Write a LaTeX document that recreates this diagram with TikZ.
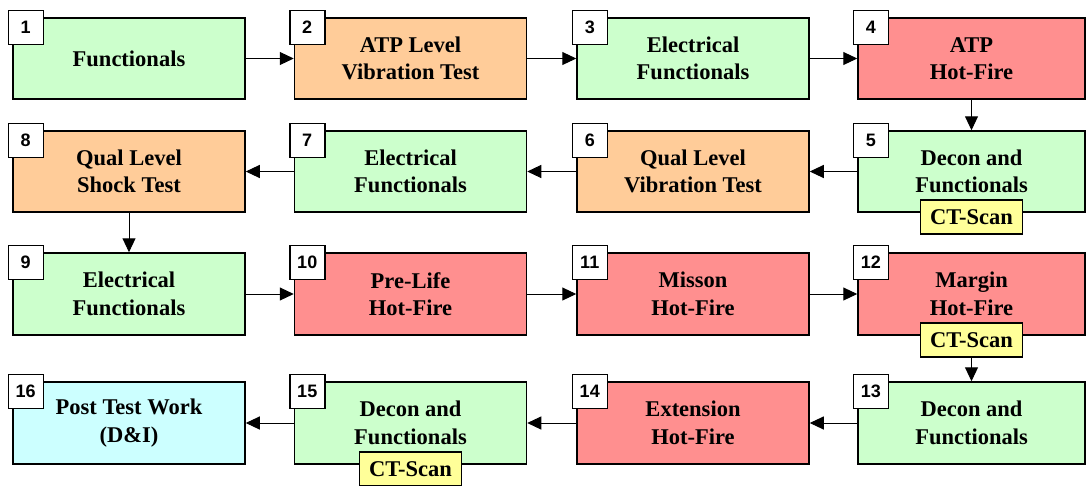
\documentclass[tikz,border=0pt]{standalone}
\usepackage{fontspec}
\setmainfont{Liberation Serif}
\newfontfamily\numfont{Liberation Sans}
\usetikzlibrary{arrows.meta,calc}
\definecolor{cgreen}{HTML}{CCFFCC}
\definecolor{corange}{HTML}{FFCC99}
\definecolor{cred}{HTML}{FF8F8F}
\definecolor{ccyan}{HTML}{CCFFFF}
\definecolor{cyell}{HTML}{FFFF99}
\begin{document}
\begin{tikzpicture}[x=1pt,y=-1pt,
 stepbox/.style={draw=black, line width=1.5pt, minimum width=232pt, minimum height=81pt, align=center, font=\fontsize{22.5}{27.5}\selectfont\bfseries, inner sep=0pt},
 numbox/.style={draw=black, fill=white, line width=1.5pt, minimum width=35pt, minimum height=34pt, inner sep=0pt, font=\numfont\fontsize{18}{18}\selectfont\bfseries},
 ctbox/.style={draw=black, fill=cyell, line width=1.5pt, minimum width=102pt, minimum height=34pt, inner sep=0pt, font=\fontsize{22.5}{22.5}\selectfont\bfseries},
 flow/.style={line width=1pt, -{Triangle[length=14pt,width=13pt]}}]
\useasboundingbox (0,0) rectangle (1086,485);
% row 1
\node[stepbox, fill=cgreen] (b1) at (129,58.5) {Functionals};
\node[stepbox, fill=corange] (b2) at (410.5,58.5) {ATP Level\\Vibration Test};
\node[stepbox, fill=cgreen] (b3) at (693,58.5) {Electrical\\Functionals};
\node[stepbox, fill=cred, minimum width=227pt] (b4) at (971.5,58.5) {ATP\\Hot-Fire};
% row 2
\node[stepbox, fill=cgreen, minimum width=227pt] (b5) at (971.5,171.5) {Decon and\\Functionals};
\node[stepbox, fill=corange] (b6) at (693,171.5) {Qual Level\\Vibration Test};
\node[stepbox, fill=cgreen] (b7) at (410.5,171.5) {Electrical\\Functionals};
\node[stepbox, fill=corange] (b8) at (129,171.5) {Qual Level\\Shock Test};
% row 3
\node[stepbox, fill=cgreen, minimum height=82pt] (b9) at (129,294) {Electrical\\Functionals};
\node[stepbox, fill=cred, minimum height=82pt] (b10) at (410.5,294) {Pre-Life\\Hot-Fire};
\node[stepbox, fill=cred, minimum height=82pt] (b11) at (693,294) {Misson\\Hot-Fire};
\node[stepbox, fill=cred, minimum height=82pt, minimum width=227pt] (b12) at (971.5,294) {Margin\\Hot-Fire};
% row 4
\node[stepbox, fill=cgreen, minimum height=82pt, minimum width=227pt] (b13) at (971.5,423) {Decon and\\Functionals};
\node[stepbox, fill=cred, minimum height=82pt] (b14) at (693,423) {Extension\\Hot-Fire};
\node[stepbox, fill=cgreen, minimum height=82pt] (b15) at (410.5,423) {Decon and\\Functionals};
\node[stepbox, fill=ccyan, minimum height=82pt] (b16) at (129,423) {Post Test Work\\(D\&I)};
% number tags
\foreach \i in {1,...,16}{
  \node[numbox] (n\i) at ($(b\i.north west)+(13.5,10)$) {\i};
}
% CT-Scan tags
\node[ctbox] (ct5) at ($(b5.south)+(0,4)$) {CT-Scan};
\node[ctbox] (ct12) at ($(b12.south)+(0,4)$) {CT-Scan};
\node[ctbox] (ct15) at ($(b15.south)+(0,4)$) {CT-Scan};
% connectors
\draw[flow] (b1) -- (b2);
\draw[flow] (b2) -- (b3);
\draw[flow] (b3) -- (b4);
\draw[flow] (b4) -- (b5);
\draw[flow] (b5) -- (b6);
\draw[flow] (b6) -- (b7);
\draw[flow] (b7) -- (b8);
\draw[flow] (b8) -- (b9);
\draw[flow] (b9) -- (b10);
\draw[flow] (b10) -- (b11);
\draw[flow] (b11) -- (b12);
\draw[flow] (ct12) -- (b13);
\draw[flow] (b13) -- (b14);
\draw[flow] (b14) -- (b15);
\draw[flow] (b15) -- (b16);
\end{tikzpicture}
\end{document}
